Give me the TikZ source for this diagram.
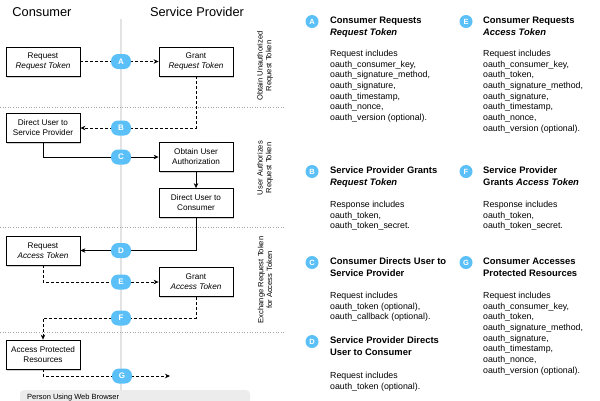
\documentclass[tikz,border=0pt]{standalone}
\usepackage{fontspec}
\setmainfont{Liberation Sans}
\usetikzlibrary{arrows.meta,shadows}
\definecolor{badgeblue}{RGB}{92,192,248}
\begin{document}
\begin{tikzpicture}[x=1pt,y=-1pt,
  box/.style={draw=black, line width=0.8pt, fill=white, minimum width=74pt, minimum height=29pt,
    align=center, inner sep=1pt, font=\fontsize{8.2}{10}\selectfont,
    drop shadow={opacity=0.35, shadow xshift=1.3pt, shadow yshift=-1.8pt}},
  conn/.style={line width=0.7pt, -{Stealth[length=5pt,width=4.5pt]}},
  dashline/.style={dash pattern=on 3pt off 2pt},
  mbadge/.style={fill=badgeblue, rounded corners=7pt, minimum width=20pt, minimum height=15pt,
    inner sep=0pt, text=white, font=\fontsize{8}{8}\bfseries\selectfont},
  rbadge/.style={circle, fill=badgeblue, minimum size=13pt, inner sep=0pt, text=white,
    font=\fontsize{7.5}{7.5}\bfseries\selectfont},
  head/.style={inner sep=0pt, font=\fontsize{12.8}{14}\selectfont},
  side/.style={rotate=90, align=center, inner sep=0pt, font=\fontsize{7.6}{8.8}\selectfont},
  ttl/.style={anchor=north west, inner sep=0pt, align=left, font=\fontsize{9.4}{12}\bfseries\selectfont},
  body/.style={anchor=north west, inner sep=0pt, align=left, font=\fontsize{8.8}{10.7}\selectfont},
  sepline/.style={gray!70, dotted, line width=0.6pt}
]
\useasboundingbox (0,0) rectangle (600,400);
\fill[white] (0,0) rectangle (600,400);

% centre line and separators
\draw[gray!22, line width=1.3pt] (121,19) -- (121,400);
\draw[sepline] (0,107) -- (285,107);
\draw[sepline] (0,227) -- (285,227);
\draw[sepline] (0,332) -- (285,332);

% headings
\node[head] (hcons) at (42,12) {Consumer};
\node[head] (hsp) at (197,12) {Service Provider};

% side labels
\node[side] (s1) at (265,66) {Obtain Unauthorized\\Request Token};
\node[side] (s2) at (265,168) {User Authorizes\\Request Token};
\node[side] (s3) at (265,280) {Exchange Request Token\\for Access Token};

% boxes
\node[box] (reqRT) at (43,61.5) {Request\\\textit{Request Token}};
\node[box] (grantRT) at (196,61.5) {Grant\\\textit{Request Token}};
\node[box] (dirSP) at (43,128) {Direct User to\\Service Provider};
\node[box] (obtain) at (196,157) {Obtain User\\Authorization};
\node[box] (dirC) at (196,203) {Direct User to\\Consumer};
\node[box] (reqAT) at (43,250.5) {Request\\\textit{Access Token}};
\node[box] (grantAT) at (196,282) {Grant\\\textit{Access Token}};
\node[box] (access) at (43,354.5) {Access Protected\\Resources};

\coordinate (fturn) at (196,318);
\coordinate (gend) at (170,376);

% connectors
\draw[conn, dashline] (reqRT.east) -- (grantRT.west);
\draw[conn, dashline] (grantRT.south) |- (dirSP.east);
\draw[conn] (dirSP.south) |- (obtain.west);
\draw[conn] (obtain.south) -- (dirC.north);
\draw[conn] (dirC.south) |- (reqAT.east);
\draw[conn, dashline] (reqAT.south) |- (grantAT.west);
\draw[conn, dashline] (grantAT.south) -- (fturn) -| (access.north);
\draw[conn, dashline] (access.south) |- (gend);

% badges on the flow
\node[mbadge] (bA) at (121,61.5) {A};
\node[mbadge] (bB) at (121,128) {B};
\node[mbadge] (bC) at (121,157) {C};
\node[mbadge] (bD) at (121,250.5) {D};
\node[mbadge] (bE) at (121,282) {E};
\node[mbadge] (bF) at (121,318) {F};
\node[mbadge] (bG) at (122,376) {G};

% bottom legend
\fill[gray!15, rounded corners=4pt] (20,390) rectangle (250,420);
\node[anchor=base west, inner sep=0pt, font=\fontsize{7.5}{8}\selectfont] (legend) at (27,399.3) {Person Using Web Browser};

% right column: A
\node[rbadge] (rA) at (312,21.5) {A};
\node[ttl] (tA) at (330,16.6) {Consumer Requests\\\textit{Request Token}};
\node[body] (dA) at (330,49.9) {Request includes\\oauth\_consumer\_key,\\oauth\_signature\_method,\\oauth\_signature,\\oauth\_timestamp,\\oauth\_nonce,\\oauth\_version (optional).};
% E
\node[rbadge] (rE) at (466,21.5) {E};
\node[ttl] (tE) at (483,16.6) {Consumer Requests\\\textit{Access Token}};
\node[body] (dE) at (483,49.9) {Request includes\\oauth\_consumer\_key,\\oauth\_token,\\oauth\_signature\_method,\\oauth\_signature,\\oauth\_timestamp,\\oauth\_nonce,\\oauth\_version (optional).};
% B
\node[rbadge] (rB) at (312,171.5) {B};
\node[ttl] (tB) at (330,166.6) {Service Provider Grants\\\textit{Request Token}};
\node[body] (dB) at (330,200.9) {Response includes\\oauth\_token,\\oauth\_token\_secret.};
% F
\node[rbadge] (rF) at (466,171.5) {F};
\node[ttl] (tF) at (483,166.6) {Service Provider\\Grants \textit{Access Token}};
\node[body] (dF) at (483,200.9) {Response includes\\oauth\_token,\\oauth\_token\_secret.};
% C
\node[rbadge] (rC) at (312,262.5) {C};
\node[ttl] (tC) at (330,257.6) {Consumer Directs User to\\Service Provider};
\node[body] (dC) at (330,291.9) {Request includes\\oauth\_token (optional),\\oauth\_callback (optional).};
% G
\node[rbadge] (rG) at (466,262.5) {G};
\node[ttl] (tG) at (483,257.6) {Consumer Accesses\\Protected Resources};
\node[body] (dG) at (483,291.9) {Request includes\\oauth\_consumer\_key,\\oauth\_token,\\oauth\_signature\_method,\\oauth\_signature,\\oauth\_timestamp,\\oauth\_nonce,\\oauth\_version (optional).};
% D
\node[rbadge] (rD) at (312,341.5) {D};
\node[ttl] (tD) at (330,336.6) {Service Provider Directs\\User to Consumer};
\node[body] (dD) at (330,371.9) {Request includes\\oauth\_token (optional).};
\end{tikzpicture}
\end{document}
